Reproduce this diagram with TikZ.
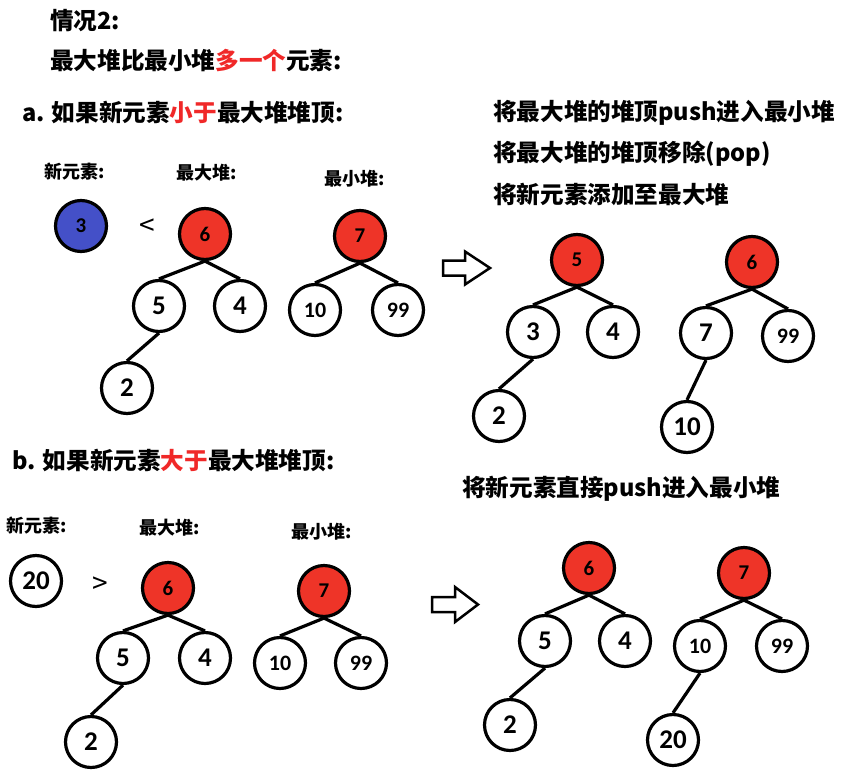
\documentclass[tikz,border=0pt]{standalone}
\usepackage{fontspec}
\setmainfont{Noto Sans CJK SC}
\newfontfamily\numfont{Carlito}
\usepackage{tikz}
\usetikzlibrary{positioning}
\definecolor{heapred}{RGB}{238,52,40}
\definecolor{newblue}{RGB}{68,80,200}
\definecolor{hilite}{RGB}{240,40,40}

\begin{document}
\begin{tikzpicture}[x=1pt, y=-1pt,
  heapnode/.style={circle, draw, line width=3.2pt, minimum size=51pt, inner sep=0pt,
    font=\numfont\bfseries\fontsize{27}{27}\selectfont},
  topnode/.style={heapnode, fill=heapred, font=\numfont\bfseries\fontsize{21}{21}\selectfont},
  twodig/.style={font=\numfont\bfseries\fontsize{22}{22}\selectfont},
  treeedge/.style={line width=3.2pt},
  headline/.style={anchor=west, inner sep=0pt, font=\bfseries\fontsize{23.6}{23.6}\selectfont},
  heaplabel/.style={inner sep=0pt, font=\bfseries\fontsize{18}{18}\selectfont},
  cmp/.style={inner sep=0pt, font=\fontsize{28}{28}\selectfont},
  blockarrow/.style={draw, line width=2.5pt, line join=miter}]
  \useasboundingbox[fill=white] (0,0) rectangle (856,771);
  % headings
  \node[headline] (case) at (50,21) {情况2:};
  \node[headline] (rule) at (50,61) {最大堆比最小堆{\color{hilite}多一个}元素:};
  \node[headline] (casea) at (22,112) {a. 如果新元素{\color{hilite}小于}最大堆堆顶:};
  % case a: before
  \node[heaplabel] (anewlbl) at (75,172) {新元素:};
  \node[heaplabel] (amaxlbl) at (207,173) {最大堆:};
  \node[heaplabel] (aminlbl) at (355,179) {最小堆:};
  \node[topnode, fill=newblue] (anew) at (81,226) {3};
  \node[cmp] (alt) at (147,227) {<};
  \node[topnode] (amax) at (205,234) {6};
  \node[heapnode] (amax5) at (159,306) {5};
  \node[heapnode] (amax4) at (240,306) {4};
  \node[heapnode] (amax2) at (127,388) {2};
  \node[topnode] (amin) at (360,236) {7};
  \node[heapnode, twodig] (amin10) at (315,310) {10};
  \node[heapnode, twodig] (amin99) at (398,310) {99};
  % case a: steps
  \node[headline] (astep1) at (493,113) {将最大堆的堆顶push进入最小堆};
  \node[headline] (astep2) at (493,154) {将最大堆的堆顶移除(pop)};
  \node[headline] (astep3) at (493,194) {将新元素添加至最大堆};
  \coordinate (arra) at (443,268);
  \draw[blockarrow] (arra) ++(0,-7.5) -- ++(22,0) -- ++(0,-9) -- ++(25,16.5)
    -- ++(-25,16.5) -- ++(0,-9) -- ++(-22,0) -- cycle;
  % case a: after
  \node[topnode] (ramax) at (577,260) {5};
  \node[heapnode] (ramax3) at (533,332) {3};
  \node[heapnode] (ramax4) at (613,332) {4};
  \node[heapnode] (ramax2) at (499,416) {2};
  \node[topnode] (ramin) at (752,262) {6};
  \node[heapnode] (ramin7) at (706,333) {7};
  \node[heapnode, twodig] (ramin99) at (788,336) {99};
  \node[heapnode] (ramin10) at (687,427) {10};
  % case b: before
  \node[headline] (caseb) at (12,460) {b. 如果新元素{\color{hilite}大于}最大堆堆顶:};
  \node[heaplabel] (bnewlbl) at (37,526) {新元素:};
  \node[heaplabel] (bmaxlbl) at (170,528) {最大堆:};
  \node[heaplabel] (bminlbl) at (322,532) {最小堆:};
  \node[heapnode] (bnew) at (36,581) {20};
  \node[cmp] (bgt) at (100,585) {>};
  \node[topnode] (bmax) at (168,588) {6};
  \node[heapnode] (bmax5) at (123,658) {5};
  \node[heapnode] (bmax4) at (205,658) {4};
  \node[heapnode] (bmax2) at (91,742) {2};
  \node[topnode] (bmin) at (324,591) {7};
  \node[heapnode, twodig] (bmin10) at (280,663) {10};
  \node[heapnode, twodig] (bmin99) at (361,663) {99};
  % case b: step
  \node[headline] (bstep) at (462,489) {将新元素直接push进入最小堆};
  \coordinate (arrb) at (432,604.5);
  \draw[blockarrow] (arrb) ++(0,-7.5) -- ++(23,0) -- ++(0,-10) -- ++(23,17.5)
    -- ++(-23,17.5) -- ++(0,-10) -- ++(-23,0) -- cycle;
  % case b: after
  \node[topnode] (rbmax) at (589,568) {6};
  \node[heapnode] (rbmax5) at (545,641) {5};
  \node[heapnode] (rbmax4) at (625,641) {4};
  \node[heapnode] (rbmax2) at (510,725) {2};
  \node[topnode] (rbmin) at (744,573) {7};
  \node[heapnode, twodig] (rbmin10) at (700,646) {10};
  \node[heapnode, twodig] (rbmin99) at (782,646) {99};
  \node[heapnode] (rbmin20) at (673,740) {20};
  % tree edges
  \foreach \p/\c in {amax/amax5, amax/amax4, amax5/amax2, amin/amin10, amin/amin99,
      ramax/ramax3, ramax/ramax4, ramax3/ramax2, ramin/ramin7, ramin/ramin99, ramin7/ramin10,
      bmax/bmax5, bmax/bmax4, bmax5/bmax2, bmin/bmin10, bmin/bmin99,
      rbmax/rbmax5, rbmax/rbmax4, rbmax5/rbmax2, rbmin/rbmin10, rbmin/rbmin99, rbmin10/rbmin20}
    \draw[treeedge] (\p.south) -- (\c.north);
\end{tikzpicture}
\end{document}
